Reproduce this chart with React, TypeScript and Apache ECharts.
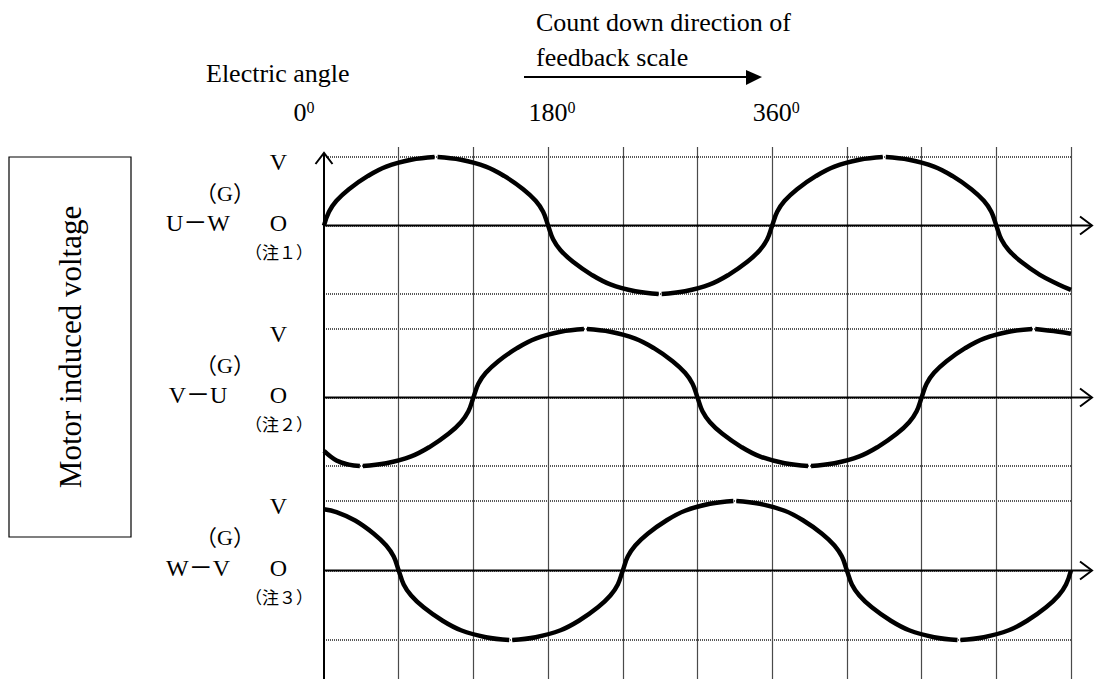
import React, { useEffect, useRef } from 'react';
import * as echarts from 'echarts';

// ---- data ----
const angleMin = 0;
const angleMax = 600;
const angleStep = 60;
const angleTickLabels = [0, 180, 360];
const levelLabels: Record<string, string> = { '1': 'V', '0': 'O' };
const panelNames = ['U－W', 'V－U', 'W－V'];
const noteLabels = ['（注１）', '（注２）', '（注３）'];
const groundLabel = '（G）';
const titleLeft = 'Electric angle';
const titleRight = ['Count down direction of', 'feedback scale'];
const boxLabel = 'Motor induced voltage';

// [electric angle (deg), normalised voltage]; null = small break in the drawn stroke at the extremes
const uwWave: [number, number | null][] = [
  [0, 0], [4, 0.2], [10, 0.36], [20, 0.53], [35, 0.72], [50, 0.86], [70, 0.96], [88.8, 1], [90, null], [91.2, 1], [110, 0.96], [130, 0.86], [145, 0.72], [160, 0.53], [170, 0.36], [176, 0.2], [180, 0],
  [184, -0.2], [190, -0.36], [200, -0.53], [215, -0.72], [230, -0.86], [250, -0.96], [268.8, -1], [270, null], [271.2, -1], [290, -0.96], [310, -0.86], [325, -0.72], [340, -0.53], [350, -0.36], [356, -0.2], [360, 0],
  [364, 0.2], [370, 0.36], [380, 0.53], [395, 0.72], [410, 0.86], [430, 0.96], [448.8, 1], [450, null], [451.2, 1], [470, 0.96], [490, 0.86], [505, 0.72], [520, 0.53], [530, 0.36], [536, 0.2], [540, 0],
  [544, -0.2], [550, -0.36], [560, -0.53], [575, -0.72], [590, -0.86], [600, -0.94],
];

const vuWave: [number, number | null][] = [
  [0, -0.78], [10, -0.92], [20, -0.98], [28.8, -1], [30, null], [31.2, -1], [50, -0.96], [70, -0.86], [85, -0.72], [100, -0.53], [110, -0.36], [116, -0.2], [120, 0],
  [124, 0.2], [130, 0.36], [140, 0.53], [155, 0.72], [170, 0.86], [190, 0.96], [208.8, 1], [210, null], [211.2, 1], [230, 0.96], [250, 0.86], [265, 0.72], [280, 0.53], [290, 0.36], [296, 0.2], [300, 0],
  [304, -0.2], [310, -0.36], [320, -0.53], [335, -0.72], [350, -0.86], [370, -0.96], [388.8, -1], [390, null], [391.2, -1], [410, -0.96], [430, -0.86], [445, -0.72], [460, -0.53], [470, -0.36], [476, -0.2], [480, 0],
  [484, 0.2], [490, 0.36], [500, 0.53], [515, 0.72], [530, 0.86], [550, 0.96], [568.8, 1], [570, null], [571.2, 1], [590, 0.96], [600, 0.93],
];

const wvWave: [number, number | null][] = [
  [0, 0.88], [10, 0.84], [25, 0.72], [40, 0.53], [50, 0.36], [56, 0.2], [60, 0],
  [64, -0.2], [70, -0.36], [80, -0.53], [95, -0.72], [110, -0.86], [130, -0.96], [148.8, -1], [150, null], [151.2, -1], [170, -0.96], [190, -0.86], [205, -0.72], [220, -0.53], [230, -0.36], [236, -0.2], [240, 0],
  [244, 0.2], [250, 0.36], [260, 0.53], [275, 0.72], [290, 0.86], [310, 0.96], [328.8, 1], [330, null], [331.2, 1], [350, 0.96], [370, 0.86], [385, 0.72], [400, 0.53], [410, 0.36], [416, 0.2], [420, 0],
  [424, -0.2], [430, -0.36], [440, -0.53], [455, -0.72], [470, -0.86], [490, -0.96], [508.8, -1], [510, null], [511.2, -1], [530, -0.96], [550, -0.86], [565, -0.72], [580, -0.53], [590, -0.36], [596, -0.2], [600, 0],
];

const waves = [uwWave, vuWave, wvWave];

const FONT = "'Liberation Serif', 'Times New Roman', 'Noto Sans CJK JP', serif";

const panelTops = [157, 329, 501];
const panelHeights = [137, 137, 139];

export default function App() {
  const ref = useRef<HTMLDivElement>(null);

  useEffect(() => {
    const chart = echarts.init(ref.current!, null, { renderer: 'svg' });

    const grids: any[] = [{ left: 324, width: 747, top: 147, height: 532 }];
    panelTops.forEach((t, i) => grids.push({ left: 324, width: 747, top: t, height: panelHeights[i] }));

    const xAxes: any[] = [
      {
        gridIndex: 0,
        type: 'value',
        min: angleMin,
        max: angleMax,
        interval: angleStep,
        position: 'top',
        axisLine: { show: false },
        axisTick: { show: false },
        splitLine: { show: true, showMinLine: false, lineStyle: { color: '#4a4a4a', width: 1.2 } },
        axisLabel: {
          margin: 22,
          formatter: (v: number) => {
            if (!angleTickLabels.includes(v)) return '';
            return v === 0 ? `{d|${v}}{s|0}{p| }` : `{q| }{d|${v}}{s|0}`;
          },
          rich: {
            d: { fontFamily: FONT, fontSize: 26, color: '#000' },
            s: { fontFamily: FONT, fontSize: 16, color: '#000', verticalAlign: 'top' },
            p: { fontSize: 10, width: 40 },
            q: { fontSize: 10, width: 8 },
          },
        },
      },
    ];
    const yAxes: any[] = [{ gridIndex: 0, type: 'value', min: 0, max: 1, show: false }];
    panelTops.forEach((_, i) => {
      xAxes.push({ gridIndex: i + 1, type: 'value', min: angleMin, max: angleMax, show: false });
      yAxes.push({
        gridIndex: i + 1,
        type: 'value',
        min: -1,
        max: 1,
        interval: 1,
        axisLine: { show: false },
        axisTick: { show: false },
        splitLine: { show: true, lineStyle: { color: '#222', width: 1.6, type: [1, 1] } },
        axisLabel: {
          margin: 37,
          formatter: (v: number) => {
            const s = levelLabels[String(v)];
            if (!s) return '';
            return v === 1 ? `{v|${s}}` : `{o|${s}}`;
          },
          rich: {
            v: { fontFamily: FONT, fontSize: 24, color: '#000', padding: [10, 0, 0, 0] },
            o: { fontFamily: FONT, fontSize: 24, color: '#000', padding: [0, 0, 6, 0] },
          },
        },
      });
    });

    const series = waves.map((w, i) => ({
      type: 'line',
      xAxisIndex: i + 1,
      yAxisIndex: i + 1,
      data: w,
      showSymbol: false,
      smooth: 0.4,
      connectNulls: false,
      clip: false,
      z: 5,
      lineStyle: { color: '#000', width: 4.5 },
    }));

    chart.setOption({
      animation: false,
      backgroundColor: '#fff',
      textStyle: { fontFamily: FONT },
      grid: grids,
      xAxis: xAxes,
      yAxis: yAxes,
      series,
    });

    const px = (g: number, x: number, y: number) => chart.convertToPixel({ gridIndex: g } as any, [x, y]) as number[];
    const [x0, yBottom] = px(0, angleMin, 0);
    const xEnd = px(0, angleMax, 0)[0];
    const yTop1 = px(1, angleMin, 1)[1];
    const els: any[] = [];
    const txt = (text: string, x: number, y: number, size: number, align = 'center', extra: any = {}) => ({
      type: 'text',
      z: 4,
      ...extra,
      style: {
        text: `{t|${text}}`,
        x,
        y,
        align,
        verticalAlign: 'middle',
        rich: { t: { fontFamily: FONT, fontSize: size, fill: '#000', color: '#000' } },
      },
    });

    // left vertical axis with arrow
    els.push({ type: 'line', z: 3, shape: { x1: x0, y1: yBottom, x2: x0, y2: yTop1 - 4 }, style: { stroke: '#000', lineWidth: 2 } });
    els.push({ type: 'polyline', z: 3, shape: { points: [[x0 - 8.5, yTop1 + 7], [x0, yTop1 - 4], [x0 + 8.5, yTop1 + 7]] }, style: { stroke: '#000', lineWidth: 2, fill: 'none' } });

    panelTops.forEach((_, i) => {
      const yZ = px(i + 1, angleMin, 0)[1];
      const yT = px(i + 1, angleMin, 1)[1];
      const tip = xEnd + 21;
      els.push({ type: 'line', z: 3, shape: { x1: x0, y1: yZ, x2: tip, y2: yZ }, style: { stroke: '#000', lineWidth: 2 } });
      els.push({ type: 'polyline', z: 3, shape: { points: [[tip - 12, yZ - 9], [tip, yZ], [tip - 12, yZ + 9]] }, style: { stroke: '#000', lineWidth: 2, fill: 'none' } });
      els.push(txt(panelNames[i], x0 - 126, yZ - 3, 24));
      els.push(txt(groundLabel, x0 - 99, yT + 36, 22));
      els.push(txt(noteLabels[i], x0 - 45, yZ + 28, 17));
    });

    // box on the left
    els.push({ type: 'rect', z: 3, shape: { x: 9, y: 157, width: 122, height: 380 }, style: { stroke: '#000', lineWidth: 1.2, fill: 'none' } });
    els.push(txt(boxLabel, 0, 0, 31, 'center', { x: 70, y: 347, rotation: Math.PI / 2 }));

    // top titles
    els.push(txt(titleLeft, 206, 73, 26, 'left'));
    els.push(txt(titleRight[0], 536, 22, 26, 'left'));
    els.push(txt(titleRight[1], 536, 57, 26, 'left'));
    els.push({ type: 'line', z: 3, shape: { x1: 524, y1: 77, x2: 750, y2: 77 }, style: { stroke: '#000', lineWidth: 2 } });
    els.push({ type: 'polygon', z: 3, shape: { points: [[746, 70], [762, 77], [746, 85]] }, style: { fill: '#000' } });

    chart.setOption({ graphic: els });

    return () => chart.dispose();
  }, []);

  return (
    <div
      ref={ref}
      style={{ position: 'fixed', left: 0, top: 0, width: 1099, height: 679, background: '#fff' }}
    />
  );
}
